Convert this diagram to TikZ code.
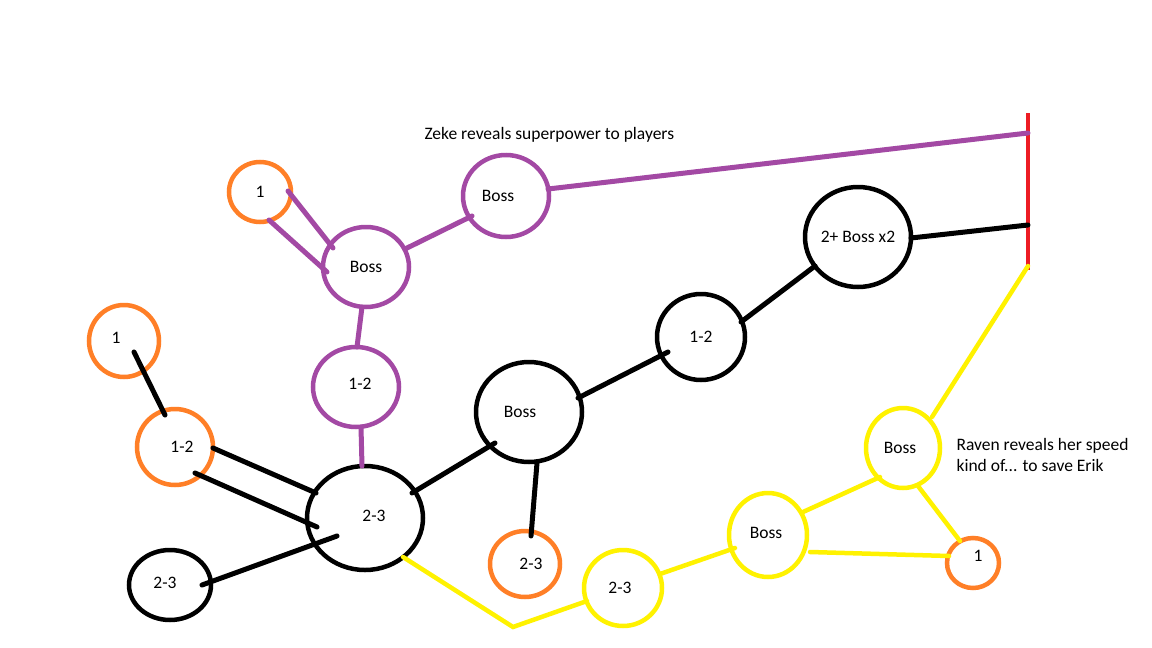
\documentclass[tikz,border=0pt]{standalone}
\usepackage{fontspec}
\setmainfont{Carlito}
\usetikzlibrary{shapes.geometric,calc}
\definecolor{porange}{HTML}{FF7F27}
\definecolor{ppurple}{HTML}{A349A4}
\definecolor{pyellow}{HTML}{FFF200}
\definecolor{pred}{HTML}{ED1C24}
\tikzset{
  circ/.style 2 args={ellipse, draw, line width=4.5pt, inner sep=0pt,
    minimum width=#1, minimum height=#2},
  orng/.style={draw=porange},
  purp/.style={draw=ppurple},
  yell/.style={draw=pyellow},
  blk/.style={draw=black},
  conn/.style={line width=5pt, line cap=round},
  yconn/.style={line width=4.5pt, line cap=round, draw=pyellow},
  txt/.style={font=\fontsize{17.5}{21.5}\selectfont, text=black}
}
\begin{document}
\begin{tikzpicture}[x=1pt,y=-1pt]
\useasboundingbox (0,0) rectangle (1152,648);
\fill[white] (0,0) rectangle (1152,648);
\begin{scope}[txt]
% nodes
\node[circ={62pt}{60pt},orng,label={[txt]center:1}] (o1) at (260,192) {};
\node[circ={86pt}{80pt},purp,label={[txt]center:Boss}] (pb) at (366,267) {};
\node[circ={86pt}{82pt},purp,label={[txt,xshift=-8pt]center:Boss}] (pt) at (506,196) {};
\node[circ={86pt}{80pt},purp,label={[txt,xshift=4pt,yshift=3pt]center:1-2}] (p12) at (356,387) {};
\node[circ={70pt}{72pt},orng,label={[txt,xshift=-8pt,yshift=3pt]center:1}] (o1l) at (124,341) {};
\node[circ={76pt}{76pt},orng,label={[txt,xshift=7pt]center:1-2}] (o12) at (175,447) {};
\node[circ={116pt}{104pt},blk,label={[txt,xshift=9pt,yshift=2pt]center:2-3}] (b23) at (365,518) {};
\node[circ={82pt}{70pt},blk,label={[txt,xshift=-5pt,yshift=2pt]center:2-3}] (s23) at (170,585) {};
\node[circ={106pt}{100pt},blk,label={[txt,xshift=-9pt]center:Boss}] (bb) at (529,412) {};
\node[circ={70pt}{66pt},orng,label={[txt,xshift=6pt]center:2-3}] (o23) at (525,564) {};
\node[circ={88pt}{86pt},blk,label={[txt]center:1-2}] (b12) at (701,337) {};
\node[circ={106pt}{100pt},blk,label={[txt]center:2+ Boss x2}] (b2b) at (858,237) {};
\node[circ={78pt}{76pt},yell,label={[txt,xshift=-3pt]center:2-3}] (y23) at (623,588) {};
\node[circ={78pt}{84pt},yell,label={[txt,xshift=-2pt,yshift=2pt]center:Boss}] (yb) at (768,535) {};
\node[circ={74pt}{80pt},yell,label={[txt,xshift=-3pt]center:Boss}] (ybr) at (903,448) {};
\node[circ={52pt}{50pt},orng,label={[txt,xshift=5pt,yshift=7pt]center:1}] (o1r) at (973,563) {};
% texts
\node[txt,anchor=west] (zeke) at (421,135) {Zeke reveals superpower to players};
\node[txt,anchor=west,align=left] (raven) at (953,455) {Raven reveals her speed\\kind of... to save Erik};
\end{scope}
% red bar
\coordinate (rtop) at (1028,113);
\coordinate (rbot) at (1028,270);
\coordinate (rp) at (1028,133);
\coordinate (rb) at (1028,225);
\coordinate (ry) at (1028,266);
\coordinate (ycorner) at (513,627);
\draw[pred,line width=4pt] (rtop) -- (rbot);
% purple connectors
\draw[conn,ppurple] ($(o1)+(28,-1)$) -- ($(pb)+(-33,-19)$);
\draw[conn,ppurple] ($(o1)+(9,28)$) -- ($(pb)+(-39,5)$);
\draw[conn,ppurple] ($(pb)+(39,-18)$) -- ($(pt)+(-34,20)$);
\draw[conn,ppurple] ($(pb)+(-4,40)$) -- ($(p12)+(1,-40)$);
\draw[conn,ppurple] ($(p12)+(5,40)$) -- ($(b23)+(-3,-52)$);
\draw[conn,ppurple] ($(pt)+(42,-7)$) -- (rp);
% black connectors
\draw[conn,black] ($(o1l)+(10,11)$) -- ($(o12)+(-10,-32)$);
\draw[conn,black] ($(o12)+(38,1)$) -- ($(b23)+(-49,-25)$);
\draw[conn,black] ($(o12)+(20,26)$) -- ($(b23)+(-48,9)$);
\draw[conn,black] ($(s23)+(32,0)$) -- ($(b23)+(-28,18)$);
\draw[conn,black] ($(b23)+(47,-25)$) -- ($(bb)+(-34,31)$);
\draw[conn,black] ($(bb)+(8,51)$) -- ($(o23)+(6,-28)$);
\draw[conn,black] ($(bb)+(49,-14)$) -- ($(b12)+(-33,15)$);
\draw[conn,black] ($(b12)+(40,-15)$) -- ($(b2b)+(-43,29)$);
\draw[conn,black] ($(b2b)+(53,1)$) -- (rb);
% yellow connectors
\draw[yconn] ($(b23)+(38,39)$) -- (ycorner) -- ($(y23)+(-36,13)$);
\draw[yconn] ($(y23)+(37,-14)$) -- ($(yb)+(-33,13)$);
\draw[yconn] ($(yb)+(35,-23)$) -- ($(ybr)+(-23,29)$);
\draw[yconn] ($(yb)+(42,17)$) -- ($(o1r)+(-24,-7)$);
\draw[yconn] ($(ybr)+(15,38)$) -- ($(o1r)+(-13,-22)$);
\draw[yconn] (ry) -- ($(ybr)+(29,-31)$);
\end{tikzpicture}
\end{document}
